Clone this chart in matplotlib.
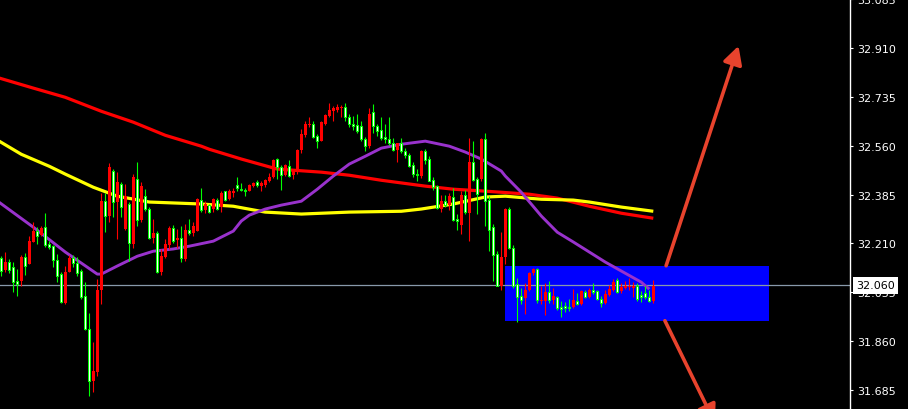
import numpy as np
import matplotlib
matplotlib.use("Agg")
import matplotlib.pyplot as plt
from matplotlib.patches import Rectangle
from matplotlib.transforms import blended_transform_factory

# ---- OHLC candles (one per bar) ----
opens = [
    32.112, 32.142, 32.115, 32.073, 32.065, 32.161, 32.130, 32.218, 32.256, 32.237,
    32.266, 32.204, 32.197, 32.151, 32.094, 31.999, 32.106, 32.156, 32.139, 32.104,
    32.019, 31.903, 31.718, 31.753, 32.043, 32.362, 32.309, 32.482, 32.359, 32.428,
    32.339, 32.380, 32.213, 32.446, 32.294, 32.414, 32.333, 32.228, 32.247, 32.106,
    32.166, 32.207, 32.264, 32.219, 32.231, 32.156, 32.259, 32.246, 32.271, 32.368,
    32.330, 32.351, 32.323, 32.368, 32.333, 32.390, 32.365, 32.398, 32.396, 32.410,
    32.401, 32.398, 32.420, 32.427, 32.420, 32.425, 32.436, 32.448, 32.508, 32.484,
    32.455, 32.491, 32.452, 32.470, 32.544, 32.601, 32.639, 32.639, 32.591, 32.575,
    32.646, 32.670, 32.687, 32.694, 32.699, 32.699, 32.663, 32.639, 32.631, 32.613,
    32.583, 32.559, 32.675, 32.631, 32.611, 32.589, 32.583, 32.568, 32.544, 32.568,
    32.539, 32.527, 32.488, 32.460, 32.455, 32.539, 32.508, 32.434, 32.412, 32.336,
    32.360, 32.348, 32.380, 32.293, 32.289, 32.384, 32.321, 32.503, 32.436, 32.386,
    32.583, 32.362, 32.258, 32.169, 32.058, 32.162, 32.333, 32.193, 32.058, 32.017,
    32.008, 32.043, 32.103, 32.118, 32.007, 32.007, 32.035, 32.007, 32.022, 31.978,
    31.976, 31.978, 31.977, 32.007, 31.993, 32.038, 32.017, 32.043, 32.037, 32.011,
    31.995, 32.029, 32.046, 32.070, 32.035, 32.055, 32.058, 32.058, 32.058, 32.011,
    32.017, 32.017, 32.002, 32.058,
]
highs = [
    32.166, 32.180, 32.154, 32.142, 32.118, 32.168, 32.175, 32.235, 32.287, 32.268,
    32.273, 32.318, 32.218, 32.204, 32.172, 32.108, 32.130, 32.168, 32.168, 32.160,
    32.118, 32.070, 31.961, 31.856, 32.082, 32.392, 32.392, 32.497, 32.476, 32.464,
    32.428, 32.422, 32.357, 32.458, 32.500, 32.428, 32.404, 32.342, 32.299, 32.255,
    32.190, 32.225, 32.271, 32.275, 32.261, 32.271, 32.279, 32.297, 32.285, 32.371,
    32.410, 32.362, 32.351, 32.372, 32.374, 32.398, 32.398, 32.404, 32.410, 32.448,
    32.425, 32.408, 32.424, 32.429, 32.436, 32.432, 32.440, 32.462, 32.512, 32.515,
    32.491, 32.496, 32.508, 32.476, 32.547, 32.619, 32.649, 32.661, 32.649, 32.603,
    32.649, 32.675, 32.711, 32.702, 32.708, 32.706, 32.711, 32.673, 32.666, 32.675,
    32.649, 32.591, 32.694, 32.708, 32.639, 32.663, 32.639, 32.661, 32.589, 32.571,
    32.587, 32.553, 32.532, 32.500, 32.476, 32.544, 32.547, 32.523, 32.448, 32.420,
    32.384, 32.384, 32.392, 32.408, 32.315, 32.398, 32.401, 32.587, 32.575, 32.448,
    32.589, 32.607, 32.380, 32.279, 32.181, 32.249, 32.336, 32.340, 32.205, 32.086,
    32.052, 32.067, 32.106, 32.122, 32.122, 32.058, 32.067, 32.076, 32.052, 32.022,
    32.005, 31.999, 32.011, 32.046, 32.031, 32.042, 32.043, 32.050, 32.067, 32.043,
    32.022, 32.043, 32.062, 32.082, 32.086, 32.067, 32.074, 32.086, 32.070, 32.067,
    32.040, 32.058, 32.043, 32.079,
]
lows = [
    32.092, 32.108, 32.104, 32.037, 32.022, 32.056, 32.097, 32.135, 32.214, 32.207,
    32.235, 32.196, 32.190, 32.124, 32.070, 31.996, 31.992, 32.106, 32.124, 32.092,
    32.011, 31.901, 31.665, 31.679, 31.736, 31.993, 32.251, 32.287, 32.303, 32.225,
    32.303, 32.258, 32.148, 32.192, 32.271, 32.285, 32.327, 32.225, 32.211, 32.104,
    32.097, 32.156, 32.190, 32.211, 32.192, 32.142, 32.148, 32.240, 32.235, 32.253,
    32.323, 32.318, 32.318, 32.324, 32.329, 32.321, 32.360, 32.365, 32.377, 32.396,
    32.396, 32.380, 32.396, 32.412, 32.412, 32.398, 32.413, 32.428, 32.444, 32.440,
    32.401, 32.452, 32.448, 32.440, 32.458, 32.535, 32.591, 32.625, 32.587, 32.553,
    32.575, 32.634, 32.661, 32.649, 32.679, 32.661, 32.649, 32.627, 32.615, 32.607,
    32.575, 32.539, 32.553, 32.607, 32.595, 32.579, 32.568, 32.563, 32.541, 32.500,
    32.535, 32.515, 32.483, 32.446, 32.432, 32.444, 32.494, 32.432, 32.401, 32.333,
    32.321, 32.341, 32.329, 32.289, 32.258, 32.243, 32.315, 32.219, 32.432, 32.315,
    32.434, 32.273, 32.183, 32.074, 32.056, 32.043, 32.136, 32.190, 32.050, 31.927,
    31.993, 31.957, 32.038, 32.098, 31.995, 31.993, 31.954, 31.995, 31.993, 31.971,
    31.947, 31.963, 31.969, 31.978, 31.990, 31.990, 32.014, 32.014, 32.029, 32.007,
    31.983, 31.993, 32.022, 32.038, 32.031, 32.031, 32.046, 32.043, 32.017, 32.005,
    31.999, 32.011, 31.999, 31.995,
]
closes = [
    32.156, 32.115, 32.142, 32.124, 32.075, 32.076, 32.163, 32.137, 32.216, 32.254,
    32.240, 32.268, 32.207, 32.199, 32.151, 32.099, 31.996, 32.108, 32.156, 32.139,
    32.112, 32.022, 31.903, 31.718, 31.751, 32.044, 32.362, 32.308, 32.470, 32.357,
    32.422, 32.261, 32.351, 32.207, 32.442, 32.294, 32.378, 32.333, 32.228, 32.246,
    32.106, 32.160, 32.204, 32.264, 32.223, 32.231, 32.154, 32.257, 32.247, 32.255,
    32.366, 32.330, 32.347, 32.333, 32.365, 32.339, 32.396, 32.368, 32.389, 32.420,
    32.404, 32.402, 32.398, 32.416, 32.429, 32.416, 32.420, 32.432, 32.446, 32.512,
    32.482, 32.455, 32.488, 32.455, 32.464, 32.544, 32.598, 32.634, 32.637, 32.595,
    32.577, 32.639, 32.666, 32.684, 32.687, 32.694, 32.697, 32.663, 32.639, 32.634,
    32.631, 32.583, 32.559, 32.679, 32.631, 32.615, 32.591, 32.583, 32.568, 32.544,
    32.568, 32.539, 32.527, 32.491, 32.460, 32.452, 32.539, 32.512, 32.436, 32.416,
    32.333, 32.360, 32.348, 32.377, 32.297, 32.276, 32.384, 32.317, 32.503, 32.440,
    32.440, 32.583, 32.365, 32.269, 32.172, 32.058, 32.160, 32.333, 32.193, 32.064,
    32.022, 32.014, 32.043, 32.103, 32.118, 32.002, 32.005, 32.035, 32.007, 32.019,
    31.983, 31.987, 31.983, 31.981, 32.002, 31.993, 32.037, 32.017, 32.043, 32.038,
    32.011, 31.995, 32.026, 32.043, 32.079, 32.038, 32.052, 32.055, 32.052, 32.058,
    32.026, 32.031, 32.019, 32.005,
]

# ---- moving averages (bar index, price) ----
ma_red_idx = [-1, 8, 16, 25, 33, 41, 50, 52, 60, 69, 80, 87, 95, 106, 113, 121, 132, 139, 147, 155, 163]
ma_red_val = [32.804, 32.766, 32.733, 32.683, 32.644, 32.597, 32.558, 32.547, 32.512, 32.476, 32.465,
              32.454, 32.436, 32.415, 32.404, 32.397, 32.386, 32.372, 32.343, 32.318, 32.300]

ma_yellow_idx = [-1, 5, 12, 16, 23, 29, 37, 50, 58, 66, 75, 87, 100, 105, 113, 121, 126, 135, 143, 147, 155, 163]
ma_yellow_val = [32.580, 32.529, 32.486, 32.458, 32.411, 32.379, 32.358, 32.351, 32.343, 32.322, 32.315,
                 32.322, 32.325, 32.333, 32.351, 32.376, 32.379, 32.368, 32.365, 32.358, 32.340, 32.325]

ma_purple_idx = [-1, 8, 16, 24, 25, 29, 34, 38, 43, 47, 53, 58, 60, 62, 66, 70, 75, 79, 83, 87, 91, 95, 100,
                 106, 112, 116, 120, 125, 126, 130, 135, 139, 143, 147, 151, 155, 160, 162]
ma_purple_val = [32.362, 32.268, 32.179, 32.100, 32.100, 32.129, 32.164, 32.182, 32.190, 32.200, 32.218,
                 32.254, 32.290, 32.311, 32.333, 32.347, 32.361, 32.404, 32.451, 32.494, 32.522, 32.551,
                 32.565, 32.576, 32.558, 32.537, 32.512, 32.469, 32.451, 32.393, 32.308, 32.250,
                 32.215, 32.179, 32.143, 32.111, 32.071, 32.046]

# ---- price levels and annotations ----
y_ticks = [33.085, 32.910, 32.735, 32.560, 32.385, 32.210, 32.035, 31.860, 31.685]
last_price = 32.060
zone_left, zone_right = 125.9, 191.9
zone_low, zone_high = 31.933, 32.130
arrow_up_from, arrow_up_to = (166.2, 32.130), (184.3, 32.917)
arrow_dn_from, arrow_dn_to = (165.9, 31.933), (178.4, 31.567)

o = np.array(opens)
h = np.array(highs)
l = np.array(lows)
c = np.array(closes)
x = np.arange(len(o))
up = c >= o

W, H = 908, 410
fig = plt.figure(figsize=(W / 100, H / 100), dpi=100, facecolor="black")
ax = fig.add_axes([0, 0, 850 / W, 1])
ax.set_facecolor("black")

# consolidation zone
ax.add_patch(Rectangle((zone_left, zone_low), zone_right - zone_left, zone_high - zone_low,
                       facecolor="#0000FF", edgecolor="none", zorder=1, clip_on=False))

# current price line
ax.axhline(last_price, color="#8899AA", lw=0.9, zorder=1.5)

# moving averages
ax.plot(ma_red_idx, ma_red_val, color="#FF0000", lw=2.3, zorder=2, solid_capstyle="butt")
ax.plot(ma_yellow_idx, ma_yellow_val, color="#FFFF00", lw=2.3, zorder=2, solid_capstyle="butt")
ax.plot(ma_purple_idx, ma_purple_val, color="#9932CC", lw=2.1, zorder=2, solid_capstyle="butt")

# candles
ax.vlines(x[up], l[up], h[up], color="#00FF00", lw=0.8, zorder=3)
ax.vlines(x[~up], l[~up], h[~up], color="#FF0000", lw=0.8, zorder=3)
lo = np.minimum(o, c)
body = np.maximum(np.abs(c - o), 0.004)
ax.bar(x[~up], body[~up], bottom=lo[~up], width=0.78, color="#FF0000", lw=0, zorder=4)
ax.bar(x[up], body[up], bottom=lo[up], width=0.52, facecolor="white",
       edgecolor="#00FF00", lw=0.75, zorder=4)

# breakout arrows
arrow_color = "#E8432D"
for start, end in [(arrow_up_from, arrow_up_to), (arrow_dn_from, arrow_dn_to)]:
    ax.annotate("", xy=end, xytext=start, annotation_clip=False,
                arrowprops=dict(arrowstyle="-|>,head_length=0.6,head_width=0.32",
                                mutation_scale=18, color=arrow_color, lw=2.6,
                                shrinkA=0, shrinkB=0), zorder=5)

# axes
ax.set_xlim(-0.325, 212.175)
ax.set_ylim(31.617, 33.084)
for side in ["left", "top", "bottom"]:
    ax.spines[side].set_visible(False)
ax.spines["right"].set_color("white")
ax.spines["right"].set_linewidth(1.0)
ax.set_xticks([])
ax.yaxis.tick_right()
ax.set_yticks(y_ticks)
ax.set_yticklabels([f"{v:.3f}" for v in y_ticks])
ax.tick_params(axis="y", colors="white", length=2.5, width=0.8, pad=3, labelsize=8)

# last price label
tr = blended_transform_factory(ax.transAxes, ax.transData)
ax.text(1.0 + 6 / 850, last_price, f"{last_price:.3f}", transform=tr, ha="left", va="center",
        fontsize=8, color="black", clip_on=False, zorder=10,
        bbox=dict(boxstyle="square,pad=0.3", facecolor="white", edgecolor="none"))

fig.savefig("out.png", dpi=100, facecolor="black")
